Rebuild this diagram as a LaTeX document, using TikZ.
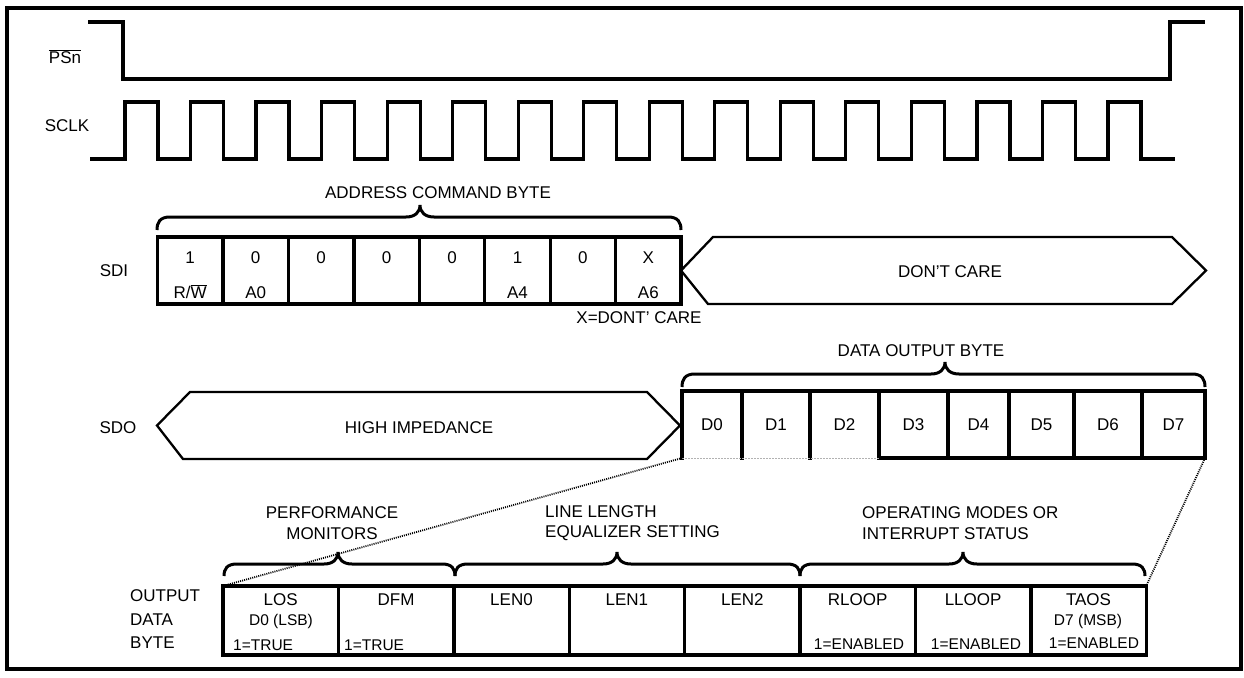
\documentclass[tikz,border=0pt]{standalone}
\usepackage{fontspec}
\setmainfont{Liberation Sans}
\tikzset{
  sig/.style={line width=3.2pt, line join=miter},
  framebox/.style={line width=4.5pt},
  cellbox/.style={draw, line width=3.4pt, rectangle, inner sep=0pt, outer sep=0pt},
  dcell/.style={rectangle, inner sep=0pt, outer sep=0pt, minimum height=67pt, font=\fontsize{17}{20}\selectfont},
  boxline/.style={line width=3.4pt, line cap=rect},
  faintline/.style={line width=1pt, gray!60, dash pattern=on 2pt off 1pt},
  hexa/.style={draw, line width=2.3pt, line join=miter},
  brc/.style={line width=3pt},
  lbl/.style={font=\fontsize{17}{20}\selectfont, inner sep=0pt, text height=12.2pt, text depth=0pt},
  sml/.style={font=\fontsize{15.5}{18}\selectfont, inner sep=0pt, text height=11.1pt, text depth=0pt},
  mlbl/.style={font=\fontsize{17}{20.5}\selectfont, inner sep=0pt},
  zoomline/.style={line width=1.8pt, dash pattern=on 1pt off 1.1pt},
}
% x1 x2 xm yend yline ytip
\newcommand\sbrace[6]{%
  \draw[brc] (#1,#4) .. controls (#1,{#4-0.6*(#4-#5)}) and ({#1+3},#5) .. ({#1+13},#5)
    -- ({#3-14},#5) .. controls ({#3-5},#5) and (#3,{#5-0.4*(#5-#6)}) .. (#3,#6)
    .. controls (#3,{#5-0.4*(#5-#6)}) and ({#3+5},#5) .. ({#3+14},#5)
    -- ({#2-13},#5) .. controls ({#2-3},#5) and (#2,{#4-0.6*(#4-#5)}) .. (#2,#4);}
\begin{document}
\begin{tikzpicture}[x=1pt,y=-1pt]
\useasboundingbox (0,0) rectangle (1244,677);
\draw[framebox] (7,8) rectangle (1241,669);

% PSn
\node[lbl] (psnl) at (65,57) {$\overline{\mbox{PSn}}$};
\draw[sig] (88,22) -- (123,22) -- (123,79) -- (1170,79) -- (1170,22) -- (1205,22);

% SCLK
\node[lbl] (sclkl) at (67,125) {SCLK};
\draw[sig] (90,159) \foreach \k in {0,...,15} {
   -- ({125+65.53*\k},159) -- ({125+65.53*\k},102) -- ({158+65.53*\k},102) -- ({158+65.53*\k},159) }
   -- (1175,159);

% SDI
\node[lbl] (sdil) at (114,270) {SDI};
\node[lbl] (addrl) at (438,192) {ADDRESS COMMAND BYTE};
\sbrace{157}{681}{420}{230}{217}{205}
\foreach \i/\up/\lo in {0/1/{R/$\overline{\mbox{W}}$},1/0/A0,2/0/{},3/0/{},4/0/{},5/1/A4,6/0/{},7/X/A6} {
  \node[cellbox, minimum width=65.45pt, minimum height=67pt] (s\i) at ({157.5+65.45*\i+32.72},270.5) {};
  \node[lbl] (su\i) at ({157.5+65.45*\i+32.72},257) {\up};
  \node[lbl] (sl\i) at ({157.5+65.45*\i+32.72},292) {\lo};
}
\node[lbl] (xdc) at (639,317) {X=DONT' CARE};
\draw[hexa] (681,270.5) -- (713,237) -- (1172,237) -- (1206,270.5) -- (1172,304) -- (708,304) -- cycle;
\node[lbl] (dcare) at (950,271) {DON'T CARE};

% SDO
\node[lbl] (sdol) at (118,427) {SDO};
\draw[hexa] (157,425.5) -- (190,392) -- (647,392) -- (680,425.5) -- (647,459) -- (183,459) -- cycle;
\node[lbl] (himp) at (419,427) {HIGH IMPEDANCE};
\node[lbl] (doutl) at (921,350) {DATA OUTPUT BYTE};
\sbrace{682}{1205}{945}{387}{374}{362}
\foreach \n/\c/\w in {0/712/60,1/776/68,2/844.5/69,3/913.5/69,4/978.5/61,5/1041.5/65,6/1108/68,7/1173.5/63} {
  \node[dcell, minimum width=\w pt] (d\n) at (\c,424.5) {D\n};
}
\draw[boxline] (d0.south west) -- (d0.north west) -- (d7.north east) -- (d7.south east) -- (d3.south west);
\foreach \n in {0,...,6} { \draw[boxline] (d\n.north east) -- (d\n.south east); }
\draw[faintline] (d0.south west) -- (d3.south west);

% bottom table
\node[mlbl, align=left, anchor=west, font=\fontsize{17}{23.5}\selectfont] (outl) at (130,619.5) {OUTPUT\\DATA\\BYTE};
\foreach \i/\nm in {0/LOS,1/DFM,2/LEN0,3/LEN1,4/LEN2,5/RLOOP,6/LLOOP,7/TAOS} {
  \node[cellbox, minimum width=115.4pt, minimum height=69pt] (b\i) at ({223+115.4*\i+57.7},620.5) {};
  \node[lbl] (bt\i) at ({223+115.4*\i+57.7},599) {\nm};
}
\node[sml] (lsb) at (281,620) {D0 (LSB)};
\node[sml] (msb) at (1088,620) {D7 (MSB)};
\node[sml, anchor=west] (tr0) at (233,645) {1=TRUE};
\node[sml, anchor=west] (tr1) at (344,645) {1=TRUE};
\node[sml] (en5) at (859,644) {1=ENABLED};
\node[sml] (en6) at (976,644) {1=ENABLED};
\node[sml] (en7) at (1094,643) {1=ENABLED};

\node[mlbl, align=center] (perfl) at (332,523) {PERFORMANCE\\MONITORS};
\node[mlbl, align=left, anchor=west] (lenl) at (545,523) {LINE LENGTH\\EQUALIZER SETTING};
\node[mlbl, align=left, anchor=west] (opl) at (862,523) {OPERATING MODES OR\\INTERRUPT STATUS};
\sbrace{224}{455}{338}{576}{564}{552}
\sbrace{455}{800}{617}{576}{564}{552}
\sbrace{800}{1145}{963}{576}{564}{552}

% zoom lines
\draw[zoomline] (d0.south west) -- (b0.north west);
\draw[zoomline] (d7.south east) -- (b7.north east);
\end{tikzpicture}
\end{document}
